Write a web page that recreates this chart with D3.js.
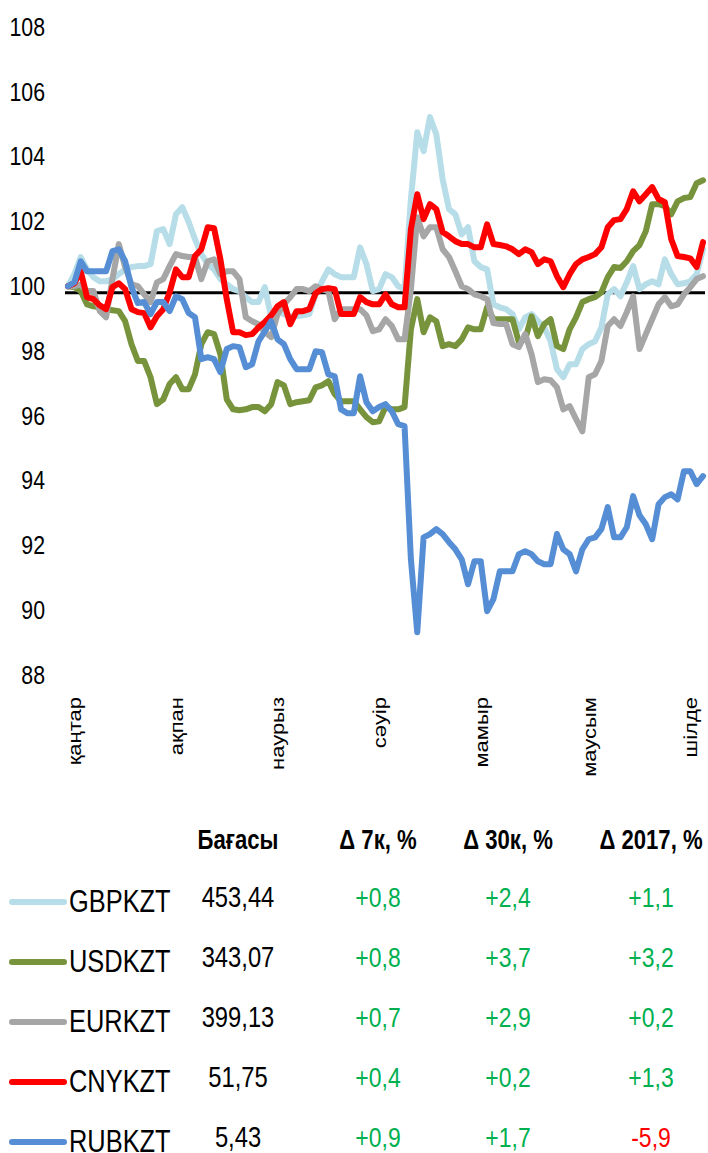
<!DOCTYPE html>
<html lang="kk">
<head>
<meta charset="utf-8">
<title>KZT cross rates</title>
<script src="https://d3js.org/d3.v7.min.js"></script>
<style>
  body { margin: 0; background: #fff; }
  svg { display: block; font-family: "Liberation Sans", Arial, sans-serif; }
</style>
</head>
<body>
<script>
// index rebased to 100 at the start of the year, ~ one point per two trading days
var gbp = [100.0,100.37,100.90,100.52,100.28,100.15,100.15,100.22,100.37,100.52,
  100.59,100.62,100.62,100.68,101.70,101.76,101.30,102.22,102.44,101.98,
  101.45,100.99,100.68,100.52,100.22,100.06,99.91,99.85,99.66,99.51,
  99.51,99.97,99.04,99.20,99.14,99.07,99.07,99.10,99.14,99.75,
  100.15,100.52,100.37,100.28,100.28,100.28,101.20,100.68,99.85,99.91,
  100.37,100.28,100.0,99.91,102.69,104.75,104.17,105.22,104.69,103.30,
  102.38,102.22,101.60,101.82,100.77,100.59,100.52,99.44,99.35,99.29,
  99.14,98.67,99.04,99.14,98.92,98.73,98.30,97.44,97.19,97.59,
  97.59,98.06,98.21,98.30,98.73,99.75,99.91,99.69,100.12,100.62,
  99.91,100.06,100.15,100.06,100.83,100.37,100.06,100.09,100.15,100.37,
  101.14];
var usd = [100.0,99.97,99.85,99.44,99.38,99.35,99.29,99.26,99.23,98.92,
  98.21,97.69,97.69,97.19,96.36,96.51,96.98,97.19,96.82,96.82,
  97.28,98.21,98.58,98.52,97.90,96.51,96.20,96.17,96.20,96.27,
  96.27,96.14,96.36,97.04,96.94,96.36,96.42,96.45,96.48,96.88,
  96.94,97.07,96.67,96.45,96.45,96.45,96.20,95.96,95.80,95.83,
  96.27,96.20,96.20,96.27,98.67,99.60,98.58,99.04,98.92,98.15,
  98.21,98.15,98.36,98.73,98.67,98.67,99.35,98.98,98.98,98.98,
  98.98,98.27,98.36,99.07,98.46,98.83,98.98,98.15,98.06,98.67,
  99.04,99.51,99.60,99.66,99.81,100.28,100.59,100.56,100.77,101.08,
  101.27,101.70,102.53,102.53,102.47,102.22,102.62,102.72,102.75,103.18,
  103.27];
var eur = [100.0,100.0,100.05,99.85,99.85,99.23,99.04,100.22,101.30,100.59,
  100.06,100.0,99.75,99.51,100.12,100.22,100.62,100.99,100.93,100.90,
  100.90,100.22,100.77,100.83,100.37,100.46,100.46,100.22,99.04,98.92,
  98.83,98.58,98.43,99.14,99.44,99.66,99.91,99.91,99.85,100.0,
  99.91,99.85,98.98,99.29,99.29,99.29,99.29,99.10,98.61,98.67,
  98.98,98.77,98.36,98.36,99.91,102.13,101.54,101.82,101.82,101.14,
  100.90,100.46,100.0,99.91,99.75,99.69,99.60,98.86,98.83,98.83,
  98.21,98.12,98.52,97.90,97.04,97.13,97.10,96.88,96.20,96.30,
  95.90,95.52,97.19,97.28,97.69,98.77,98.98,98.77,99.20,99.69,
  98.06,98.52,98.98,99.44,99.66,99.38,99.44,99.75,99.97,100.22,
  100.31];
var cny = [100.0,100.09,100.46,99.66,99.60,99.41,99.29,99.97,100.09,99.91,
  99.29,99.20,99.17,98.73,99.07,99.29,99.81,100.52,100.28,100.28,
  100.93,101.14,101.82,101.79,100.83,99.60,98.58,98.58,98.49,98.52,
  98.73,98.89,99.10,99.38,99.51,98.83,99.23,99.23,99.29,99.78,
  99.91,99.94,99.91,99.14,99.14,99.14,99.66,99.51,99.44,99.44,
  99.75,99.44,99.35,99.35,101.76,102.84,102.07,102.53,102.38,101.67,
  101.54,101.39,101.30,101.30,101.20,101.20,101.91,101.30,101.27,101.23,
  101.14,100.99,101.14,101.05,100.68,100.83,100.77,100.31,99.97,100.37,
  100.68,100.83,100.90,100.99,101.20,101.82,102.04,102.07,102.38,102.93,
  102.62,102.84,103.06,102.69,102.59,101.45,100.93,100.90,100.86,100.59,
  101.36];
var rub = [100.0,100.12,100.77,100.46,100.46,100.46,100.46,101.08,101.14,100.77,
  99.97,99.48,99.51,99.14,99.51,99.51,99.23,99.69,99.60,99.17,
  99.04,97.75,97.81,97.75,97.35,98.06,98.15,98.12,97.50,97.59,
  98.30,98.61,98.92,98.36,98.21,97.75,97.44,97.44,97.44,97.99,
  97.96,97.28,97.22,96.20,96.08,96.08,97.22,96.42,96.14,96.27,
  96.36,96.14,95.74,95.68,91.57,89.32,92.25,92.35,92.50,92.35,
  92.10,91.88,91.57,90.80,91.51,91.51,89.97,90.34,91.20,91.20,
  91.20,91.73,91.82,91.73,91.51,91.42,91.42,92.35,91.88,91.73,
  91.20,91.88,92.19,92.25,92.50,93.18,92.25,92.25,92.56,93.52,
  92.93,92.65,92.19,93.27,93.49,93.58,93.42,94.29,94.29,93.89,
  94.14];

var baseLevel = 99.8;
var yTicks = [88, 90, 92, 94, 96, 98, 100, 102, 104, 106, 108];
var months = ["қаңтар", "ақпан", "наурыз", "сәуір", "мамыр", "маусым", "шілде"];
var monthIdx = [1, 17, 33, 49, 65, 82, 98];

// table under the chart
var tickers = ["GBPKZT", "USDKZT", "EURKZT", "CNYKZT", "RUBKZT"];
var prices = ["453,44", "343,07", "399,13", "51,75", "5,43"];
var d7 = ["+0,8", "+0,8", "+0,7", "+0,4", "+0,9"];
var d30 = ["+2,4", "+3,7", "+2,9", "+0,2", "+1,7"];
var dYtd = ["+1,1", "+3,2", "+0,2", "+1,3", "-5,9"];
var headers = ["Бағасы", "Δ 7к, %", "Δ 30к, %", "Δ 2017, %"];

var colors = ["#b7dee8", "#77933c", "#a6a6a6", "#ff0000", "#558ed5"];
var seriesData = [gbp, usd, eur, cny, rub];

var squeeze = 0.82; // the original text is condensed

var width = 708, height = 1153;
var svg = d3.select("body").append("svg")
  .attr("width", width)
  .attr("height", height);

var x = d3.scaleLinear().domain([0, gbp.length - 1]).range([68, 703]);
var y = d3.scaleLinear().domain([88, 108]).range([675, 27]);

// y axis labels
var yAxis = d3.axisLeft(y).tickValues(yTicks).tickSize(0).tickPadding(0).tickFormat(d3.format("d"));
var gy = svg.append("g")
  .attr("transform", "translate(45,0)")
  .call(yAxis);
gy.select(".domain").remove();
gy.selectAll("text")
  .attr("font-size", 26)
  .attr("font-family", null)
  .attr("fill", "#000")
  .attr("transform", "scale(" + squeeze + ",1)");

// month labels, rotated
var xAxis = d3.axisBottom(x).tickValues(monthIdx).tickSize(0)
  .tickFormat(function (d, i) { return months[i]; });
var gx = svg.append("g")
  .attr("transform", "translate(0,697)")
  .call(xAxis);
gx.select(".domain").remove();
gx.selectAll("text")
  .attr("font-family", null)
  .attr("font-size", 22)
  .attr("fill", "#000")
  .attr("transform", "rotate(-90) scale(1," + squeeze + ")")
  .attr("x", 0)
  .attr("y", 0)
  .attr("dy", "0.35em")
  .attr("text-anchor", "end");

// black reference line
svg.append("line")
  .attr("x1", 65).attr("x2", 705)
  .attr("y1", y(baseLevel)).attr("y2", y(baseLevel))
  .attr("stroke", "#000")
  .attr("stroke-width", 3);

var line = d3.line()
  .x(function (d, i) { return x(i); })
  .y(function (d) { return y(d); });

svg.selectAll(".series")
  .data(seriesData)
  .enter().append("path")
  .attr("class", "series")
  .attr("d", line)
  .attr("fill", "none")
  .attr("stroke", function (d, i) { return colors[i]; })
  .attr("stroke-width", 6)
  .attr("stroke-linejoin", "round")
  .attr("stroke-linecap", "round");

// table
var colX = [238, 378, 508, 651];
var tbl = svg.append("g");

function putText(sel, xf, yf) {
  return sel.append("g")
    .attr("transform", function (d, i) {
      return "translate(" + xf(d, i) + "," + yf(d, i) + ") scale(" + squeeze + ",1)";
    })
    .append("text");
}

putText(tbl.selectAll(".hdr").data(headers).enter(),
    function (d, i) { return colX[i]; }, function () { return 849; })
  .attr("text-anchor", "middle")
  .attr("font-size", 27)
  .attr("font-weight", "bold")
  .text(function (d) { return d; });

var rowY = function (i) { return 912 + i * 60; };

tbl.selectAll(".swatch")
  .data(tickers)
  .enter().append("line")
  .attr("class", "swatch")
  .attr("x1", 12).attr("x2", 64)
  .attr("y1", function (d, i) { return rowY(i) - 10; })
  .attr("y2", function (d, i) { return rowY(i) - 10; })
  .attr("stroke", function (d, i) { return colors[i]; })
  .attr("stroke-width", 6)
  .attr("stroke-linecap", "round");

putText(tbl.selectAll(".tick-name").data(tickers).enter(),
    function () { return 69; }, function (d, i) { return rowY(i); })
  .attr("font-size", 31)
  .text(function (d) { return d; });

var cols = [prices, d7, d30, dYtd];
cols.forEach(function (col, c) {
  putText(tbl.selectAll(".c" + c).data(col).enter(),
      function () { return colX[c]; }, function (d, i) { return rowY(i) - 5; })
    .attr("text-anchor", "middle")
    .attr("font-size", c === 0 ? 29 : 28)
    .attr("fill", function (d) {
      if (c === 0) return "#000";
      return d.charAt(0) === "-" ? "#ff0000" : "#00b050";
    })
    .text(function (d) { return d; });
});
</script>
</body>
</html>
